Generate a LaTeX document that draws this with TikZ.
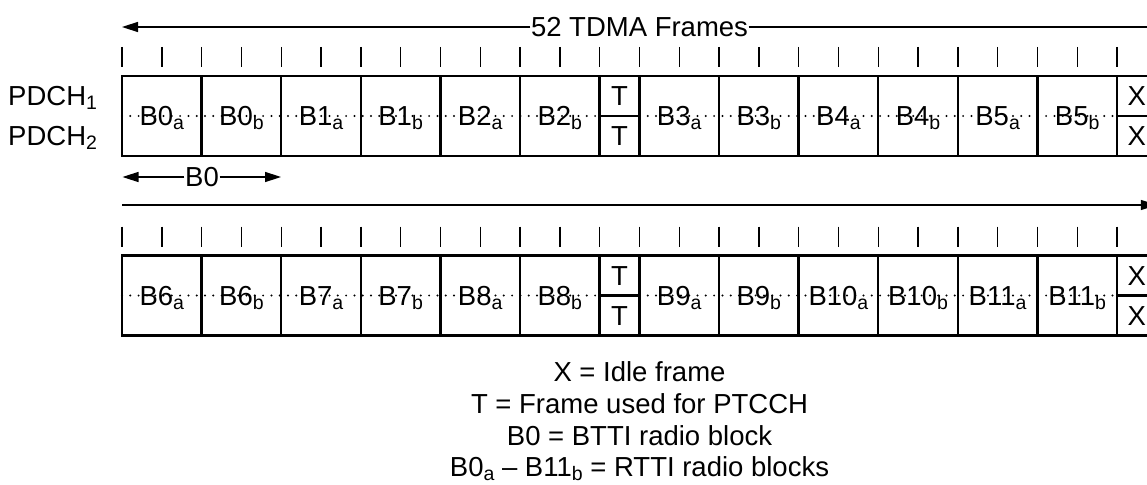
\documentclass[tikz,border=0pt]{standalone}
\usepackage{fontspec}
\setmainfont{Liberation Sans}
\usetikzlibrary{arrows.meta}
\newcommand{\lsub}[1]{\raisebox{-4pt}{\fontsize{19.5}{20}\selectfont #1}}
\begin{document}
\begin{tikzpicture}[x=1pt,y=-1pt,
  cellline/.style={line width=2.3pt},
  tickmark/.style={line width=1.4pt},
  arrowline/.style={line width=1.5pt},
  dotline/.style={line width=2.2pt, line cap=round, dash pattern=on 0pt off 8.3pt},
  txt/.style={inner sep=0pt, font=\fontsize{27.5}{32}\selectfont},
  cellbl/.style={txt, anchor=base},
  headtip/.style={-{Triangle[length=16pt,width=10pt]}}
]
\useasboundingbox (0,0) rectangle (1147,484);
\clip (0,0) rectangle (1147,484);

% top arrow
\node[txt, inner xsep=0.5pt] (title) at (639.5,27) {52 TDMA Frames};
\coordinate (tl) at (122,27);
\coordinate (tr) at (1165,27);
\draw[arrowline,headtip] (title.west) -- (tl);
\draw[arrowline] (title.east) -- (tr);

% B0 arrow
\node[txt, inner xsep=0.5pt] (bzero) at (202,177) {B0};
\coordinate (bl) at (122.5,177);
\coordinate (br) at (281,177);
\draw[arrowline,headtip] (bzero.west) -- (bl);
\draw[arrowline,headtip] (bzero.east) -- (br);

% second row arrow
\coordinate (sl) at (122,205);
\coordinate (sr) at (1156.8,205);
\draw[arrowline,headtip] (sl) -- (sr);

% PDCH labels
\node[txt, anchor=base west] (pdch1) at (8,105.7) {PDCH\lsub{1}};
\node[txt, anchor=base west] (pdch2) at (8,145.7) {PDCH\lsub{2}};

\foreach \r/\top/\off in {1/76/0,2/255.5/6}{
  \pgfmathsetmacro\mid{\top+40}
  \pgfmathsetmacro\tk{\top-29}
  \foreach \i in {0,...,26}{
    \draw[tickmark] (122+\i*39.8,\tk) -- ++(0,20);
  }
  \draw[dotline] (122,\mid) -- (599.6,\mid);
  \draw[dotline] (639.4,\mid) -- (1117,\mid);
  \foreach \k in {0,...,5}{
    \draw[cellline] (122+\k*79.6,\top) rectangle ++(79.6,80);
    \draw[cellline] (639.4+\k*79.6,\top) rectangle ++(79.6,80);
  }
  \draw[cellline] (599.6,\top) rectangle ++(39.8,80);
  \draw[cellline] (1117,\top) rectangle ++(39.8,80);
  \draw[cellline] (599.6,\mid) -- ++(39.8,0);
  \draw[cellline] (1117,\mid) -- ++(39.8,0);
  \foreach \k in {0,...,11}{
    \pgfmathtruncatemacro\nn{\off+int(\k/2)}
    \pgfmathsetmacro\cx{122+\k*79.6+39.8+(\k>5)*39.8}
    \ifodd\k\def\sfx{b}\else\def\sfx{a}\fi
    \node[cellbl] (r\r-c\k) at (\cx,\mid+9.7) {B\nn\lsub{\sfx}};
  }
  \node[cellbl] (r\r-t1) at (619.5,\top+29.7) {T};
  \node[cellbl] (r\r-t2) at (619.5,\top+69.7) {T};
  \node[cellbl] (r\r-x1) at (1136.9,\top+29.7) {X};
  \node[cellbl] (r\r-x2) at (1136.9,\top+69.7) {X};
}

% legend
\node[cellbl] (leg1) at (639.5,381) {X = Idle frame};
\node[cellbl] (leg2) at (639.5,413) {T = Frame used for PTCCH};
\node[cellbl] (leg3) at (639.5,445) {B0 = BTTI radio block};
\node[cellbl] (leg4) at (639.5,476.5) {B0\lsub{a} – B11\lsub{b} = RTTI radio blocks};
\end{tikzpicture}
\end{document}
